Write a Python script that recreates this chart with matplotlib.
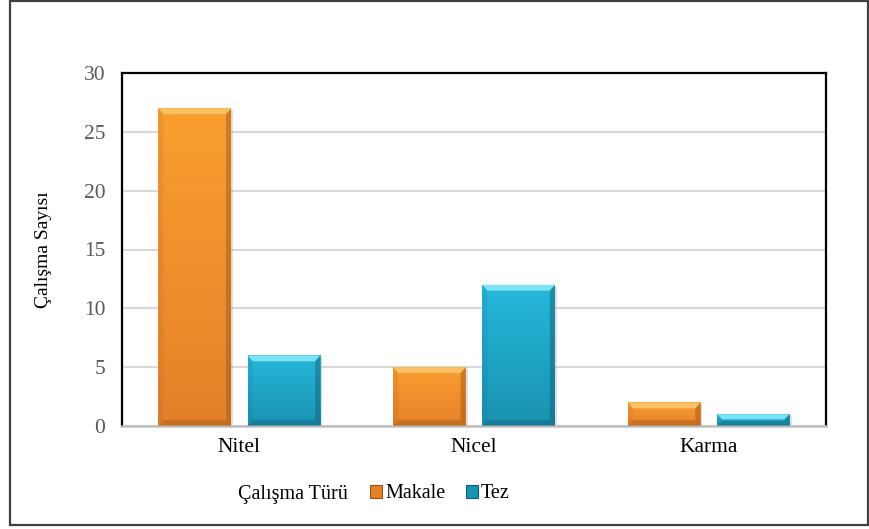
import numpy as np
import matplotlib.pyplot as plt
from matplotlib.patches import Rectangle, Polygon, Patch
from matplotlib.colors import LinearSegmentedColormap

# -------------------------------------------------------------
# data

categories = ["Nitel", "Nicel", "Karma"]
makale = [27, 5, 2]
tez = [6, 12, 1]
series_names = ["Makale", "Tez"]
legend_title = "Çalışma Türü"
y_label = "Çalışma Sayısı"
y_ticks = [0, 5, 10, 15, 20, 25, 30]

# -------------------------------------------------------------
# style

plt.rcParams['font.family'] = ['Liberation Serif', 'DejaVu Serif']

orange_top, orange_bot = "#FA9E30", "#E5802A"
orange_light, orange_dark = "#FDC062", "#9C5412"
blue_top, blue_bot = "#25B8DA", "#1A92B2"
blue_light, blue_dark = "#7BE3F5", "#0F5E74"

W, H = 870, 529
fig = plt.figure(figsize=(W / 100, H / 100), dpi=100)
ax = fig.add_axes([122 / W, 1 - 426 / H, (826 - 122) / W, (426 - 73) / H])

# figure frame
fig.patches.append(Rectangle((10 / W, 4 / H), (868 - 10) / W, (528 - 4) / H,
                             transform=fig.transFigure, fill=False,
                             edgecolor="#404040", linewidth=1.6))

x = np.arange(len(categories))
bw = 0.31
off = 0.19


def bevel(ax, bars, top, bot, light, dark):
    # fake excel bevel: gradient fill, lighter top, darker sides/bottom
    cmap = LinearSegmentedColormap.from_list("g", [bot, top])
    for b in bars:
        x0, y0 = b.get_x(), b.get_y()
        w, h = b.get_width(), b.get_height()
        b.set_facecolor("none")
        im = ax.imshow(np.linspace(0, 1, 64).reshape(-1, 1), cmap=cmap,
                       extent=[x0, x0 + w, y0, y0 + h], origin="lower",
                       aspect="auto", zorder=2)
        im.set_clip_path(b)
        dx = 0.022
        dy = min(0.5, h / 2.3)
        x1, y1 = x0 + w, y0 + h
        ax.add_patch(Polygon([(x0, y1), (x1, y1), (x1 - dx, y1 - dy), (x0 + dx, y1 - dy)],
                             closed=True, facecolor=light, edgecolor="none", zorder=3))
        ax.add_patch(Polygon([(x1, y1), (x1, y0), (x1 - dx, y0 + dy), (x1 - dx, y1 - dy)],
                             closed=True, facecolor=dark, edgecolor="none", alpha=0.45, zorder=3))
        ax.add_patch(Polygon([(x0, y0), (x1, y0), (x1 - dx, y0 + dy), (x0 + dx, y0 + dy)],
                             closed=True, facecolor=dark, edgecolor="none", alpha=0.4, zorder=3))
        ax.add_patch(Polygon([(x0, y1), (x0, y0), (x0 + dx, y0 + dy), (x0 + dx, y1 - dy)],
                             closed=True, facecolor=dark, edgecolor="none", alpha=0.12, zorder=3))
        # soft shadow
        ax.add_patch(Rectangle((x1, y0), 0.008, h - 0.15, facecolor="#999999",
                               edgecolor="none", alpha=0.3, zorder=1.5))


b1 = ax.bar(x - off, makale, bw, color=orange_top, zorder=2, label=series_names[0])
b2 = ax.bar(x + off, tez, bw, color=blue_top, zorder=2, label=series_names[1])
bevel(ax, b1, orange_top, orange_bot, orange_light, orange_dark)
bevel(ax, b2, blue_top, blue_bot, blue_light, blue_dark)

ax.set_xlim(-0.5, len(categories) - 0.5)
ax.set_ylim(0, 30)
ax.set_yticks(y_ticks)
ax.set_xticks(x)
ax.set_xticklabels(categories)
ax.tick_params(axis="both", length=0, labelsize=15.5, colors="#595959")
ax.tick_params(axis="y", pad=12)
ax.tick_params(axis="x", pad=9)
for t in ax.get_xticklabels():
    t.set_color("#000000")

ax.grid(axis="y", color="#D9D9D9", linewidth=1.5, zorder=0)
ax.set_axisbelow(True)
for s in ["left", "top", "right"]:
    ax.spines[s].set_color("black")
    ax.spines[s].set_linewidth(1.6)
ax.spines["bottom"].set_color("#BFBFBF")
ax.spines["bottom"].set_linewidth(1.8)

ax.set_ylabel(y_label, fontsize=14, color="black", labelpad=23)

# legend with title on the left
fig.text(238 / W, 1 - 494 / H, legend_title, fontsize=14.5, va="center", ha="left")
handles = [Patch(facecolor=orange_bot, edgecolor=orange_dark, linewidth=0.8),
           Patch(facecolor=blue_bot, edgecolor=blue_dark, linewidth=0.8)]
fig.legend(handles, series_names, loc="center left",
           bbox_to_anchor=(360 / W, 1 - 494 / H), ncol=2, frameon=False,
           fontsize=14.5, handlelength=0.6, handleheight=0.6,
           handletextpad=0.15, columnspacing=1.0, borderpad=0)

fig.savefig("out.png", dpi=100)
